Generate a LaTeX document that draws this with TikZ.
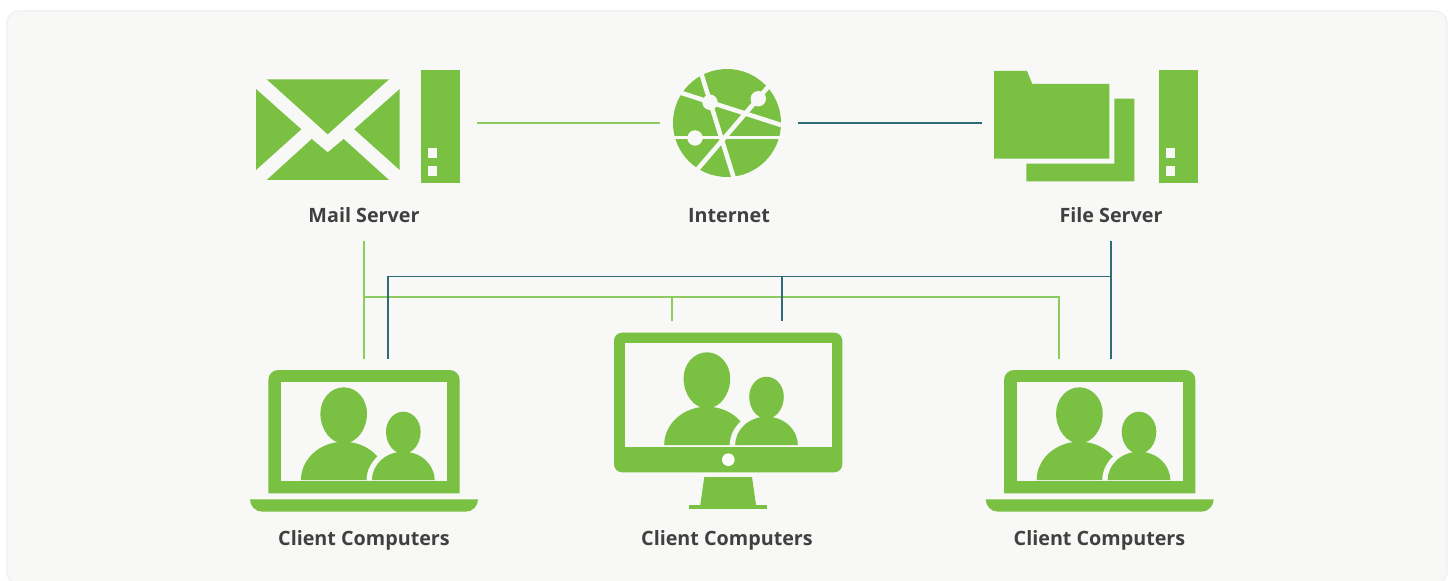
\documentclass[tikz,border=0pt]{standalone}
\usepackage{fontspec}
\setmainfont{Open Sans}
\definecolor{icongreen}{HTML}{7AC143}
\definecolor{linegreen}{HTML}{8CCB5E}
\definecolor{lineteal}{HTML}{2F6B78}
\definecolor{panelbg}{HTML}{F8F8F6}
\definecolor{paneledge}{HTML}{F0F0ED}
\definecolor{labeltext}{HTML}{404040}
\tikzset{
  icon/.style={fill=icongreen,draw=none},
  cut/.style={fill=panelbg,draw=none},
  greenline/.style={draw=linegreen,line width=0.95pt},
  tealline/.style={draw=lineteal,line width=0.95pt},
  lab/.style={text=labeltext,font=\fontsize{14.8pt}{18pt}\selectfont\bfseries,inner sep=0pt,anchor=base},
  gap/.style={draw=panelbg,line width=3.4pt},
  gapthin/.style={draw=panelbg,line width=2.6pt},
}
% the two figures; drawn relative to the left laptop's screen
\newcommand{\peoplepair}{%
  \path[icon] (301,480) arc[x radius=42.7,y radius=38.3,start angle=180,end angle=360] -- cycle;
  \path[icon] (320.4,413.3) arc[x radius=23.3,y radius=26,start angle=180,end angle=360]
     arc[x radius=23.3,y radius=30,start angle=0,end angle=180] -- cycle;
  \path[cut] (366.5,480.7) arc[x radius=36.8,y radius=34,start angle=180,end angle=360] -- cycle;
  \path[icon] (372,480) arc[x radius=31.3,y radius=28.3,start angle=180,end angle=360] -- cycle;
  \path[icon] (386,431.7) arc[x radius=17.3,y radius=20,start angle=180,end angle=360]
     arc[x radius=17.3,y radius=22,start angle=0,end angle=180] -- cycle;
}
\newcommand{\laptopicon}{%
  \path[icon] (268.3,493.3) -- (268.3,380) arc[radius=10,start angle=180,end angle=270]
     -- (449.7,370) arc[radius=10,start angle=270,end angle=360] -- (459.7,493.3) -- cycle;
  \path[cut] (281,382.3) rectangle (447.3,480.7);
  \path[icon] (250,499.3) -- (478,499.3) arc[radius=12.4,start angle=0,end angle=90]
     -- (262.4,511.7) arc[radius=12.4,start angle=90,end angle=180] -- cycle;
  \peoplepair
}
\newcommand{\towericon}[2]{%
  \path[icon] (#1,#2) rectangle ++(39.2,113.2);
  \path[cut] (#1+7.3,#2+78.3) rectangle ++(9,9.8);
  \path[cut] (#1+7.3,#2+95.8) rectangle ++(9,9.8);
}
\begin{document}
\begin{tikzpicture}[x=0.75pt,y=-0.75pt]
\useasboundingbox (0,0) rectangle (1450,581);
\path[fill=white] (0,0) rectangle (1450,581);
\path[fill=panelbg,draw=paneledge,line width=1pt,rounded corners=9pt] (7,11) rectangle (1447,584);

% mail server icon
\path[icon] (266.7,79.3) -- (389,79.3) -- (327.7,134.3) -- cycle;
\path[icon] (256,89) -- (301.3,129.3) -- (256,170) -- cycle;
\path[icon] (399.7,89) -- (354.3,129.3) -- (399.7,170) -- cycle;
\path[icon] (266.7,180) -- (311.7,139) -- (327.7,152.3) -- (343.7,139) -- (389,180) -- cycle;
\towericon{420.7}{70}

% internet globe
\path[icon] (727,123) circle[radius=54];
\begin{scope}
  \clip (727,123) circle[radius=55];
  \draw[gap] (700.5,71) -- (735,182);
  \draw[gap] (676,91.2) -- (785,126.3);
  \draw[gapthin] (670,137.7) -- (785,137.7);
  \draw[gap] (773,81.2) -- (694,173.3);
\end{scope}
\path[cut] (710,102.3) circle[radius=7.7];
\path[cut] (758.3,98.7) circle[radius=7.7];
\path[cut] (695,138) circle[radius=7.7];

% file server icon
\path[icon] (1114.3,98.7) -- (1134.3,98.7) -- (1134.3,181.3) -- (1026.3,181.3) -- (1026.3,163.7) -- (1114.3,163.7) -- cycle;
\path[icon] (994,71) -- (1027,71) -- (1032.3,84) -- (1109.3,84) -- (1109.3,158.7) -- (994,158.7) -- cycle;
\towericon{1159}{70}

% client computers
\laptopicon
\begin{scope}[shift={(735.7,0)}]
  \laptopicon
\end{scope}
\path[icon,rounded corners=6pt] (614,332.7) rectangle (842.3,472.3);
\path[cut] (625,343.3) rectangle (831.7,446.7);
\path[fill=white] (728.3,459.7) circle[radius=6.3];
\path[icon] (704.3,477) -- (752,477) -- (756,505) -- (700.3,505) -- cycle;
\path[icon] (689.3,505) rectangle (767,509);
\begin{scope}[shift={(363.2,-35)}]
  \peoplepair
\end{scope}

% labels
\node[lab] (mail) at (364,222.5) {Mail Server};
\node[lab] (net) at (729,222.5) {Internet};
\node[lab] (file) at (1111,222.5) {File Server};
\node[lab] (c1) at (364,545) {Client Computers};
\node[lab] (c2) at (727,545) {Client Computers};
\node[lab] (c3) at (1099.5,545) {Client Computers};

% connector ends
\coordinate (mailE) at (477,123);
\coordinate (netW) at (660,123);
\coordinate (netE) at (798,123);
\coordinate (fileW) at (982,123);
\coordinate (mailS) at (364,241);
\coordinate (c1G) at (364,359);
\coordinate (c1T) at (388,359);
\coordinate (fileS) at (1111,241);
\coordinate (c3T) at (1111,359);
\coordinate (c3G) at (1059,359);
\coordinate (c2G) at (672,321);
\coordinate (c2T) at (782,321);
\coordinate (gBusL) at (364,297);
\coordinate (gBusC) at (672,297);
\coordinate (tBusC) at (782,276.5);
\coordinate (tBusR) at (1111,276.5);

% connectors
\draw[greenline] (mailE) -- (netW);
\draw[tealline] (netE) -- (fileW);
\draw[greenline] (mailS) -- (c1G);
\draw[greenline] (gBusL) -- (c3G |- gBusL) -- (c3G);
\draw[greenline] (gBusC) -- (c2G);
\draw[tealline] (fileS) -- (c3T);
\draw[tealline] (c1T) -- (c1T |- tBusR) -- (tBusR);
\draw[tealline] (tBusC) -- (c2T);
\end{tikzpicture}
\end{document}
